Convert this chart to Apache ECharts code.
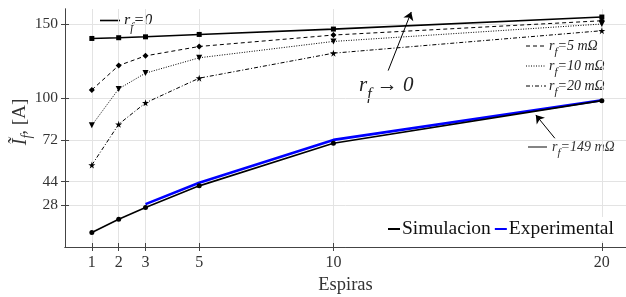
<!DOCTYPE html>
<html>
<head>
<meta charset="utf-8">
<script src="https://cdn.jsdelivr.net/npm/echarts@6/dist/echarts.min.js"></script>
<style>
  html, body { margin: 0; padding: 0; background: #fff; }
  #chart { width: 626px; height: 297px; }
</style>
</head>
<body>
<div id="chart"></div>
<script type="text/javascript">
  // espiras (eje x)
  var espiras = [1, 2, 3, 5, 10, 20];
  var xTicks = [1, 2, 3, 5, 10, 20];
  var yTicks = [28, 44, 72, 100, 150];

  // corriente de falla simulada, por resistencia de falla
  var rf0 = [140.2, 140.7, 141.3, 142.9, 146.5, 154.6];
  var rf5 = [105.6, 122.0, 128.5, 134.8, 142.5, 152.1];
  var rf10 = [81.8, 106.3, 116.9, 127.2, 138.2, 149.9];
  var rf20 = [55.1, 82.5, 96.9, 113.5, 130.3, 145.4];
  var rf149 = [9.7, 18.7, 26.6, 41.1, 69.7, 98.4];

  // experimental (rf = 149 mOhm)
  var expX = [3, 5, 10, 20];
  var expY = [28.8, 43.2, 72.0, 98.6];

  var serif = 'Liberation Serif';
  var star = 'path://M50,0 L61,35 L98,35 L68,57 L79,91 L50,70 L21,91 L32,57 L2,35 L39,35 Z';

  function pares(xs, ys) {
    var out = [];
    for (var i = 0; i < xs.length; i++) out.push([xs[i], ys[i]]);
    return out;
  }

  function rfLabel(val) {
    return '{r|r}{s|f}{e|=' + val + '}';
  }
  // subindice: el token "s" se baja con padding superior
  function rfRich(size, col) {
    var sub = Math.round(size * 0.75);
    col = col || '#222';
    return {
      r: { fontFamily: serif, fontStyle: 'italic', fontSize: size, lineHeight: size, verticalAlign: 'top', fill: col },
      s: { fontFamily: serif, fontStyle: 'italic', fontSize: sub, lineHeight: sub, verticalAlign: 'top', padding: [Math.round(size * 0.55), 0, 0, 0], fill: col },
      e: { fontFamily: serif, fontStyle: 'italic', fontSize: size, lineHeight: size, verticalAlign: 'top', fill: col }
    };
  }

  var myChart = echarts.init(document.getElementById('chart'));

  var gridGray = '#e3e3e3';
  var axisGray = '#444';

  var option = {
    backgroundColor: '#fff',
    animation: false,
    grid: { left: 65, right: 0, top: 9, bottom: 50, outerBoundsMode: 'none' },
    legend: {
      data: ['Simulacion', 'Experimental'],
      left: 385, top: 217,
      itemWidth: 12, itemHeight: 2, itemGap: 4,
      icon: 'rect',
      backgroundColor: '#fff',
      padding: [2, 3, 2, 3],
      textStyle: { fontFamily: serif, fontSize: 19.5, color: '#111', padding: [0, 0, 0, -3] }
    },
    xAxis: [{
      type: 'value', min: 0, max: 20.9,
      name: 'Espiras', nameLocation: 'middle', nameGap: 24,
      nameTextStyle: { fontFamily: serif, fontSize: 18.5, color: '#333' },
      axisLine: { show: true, lineStyle: { color: axisGray } },
      axisTick: { inside: true, length: 4, customValues: xTicks, lineStyle: { color: axisGray } },
      axisLabel: { customValues: xTicks, fontFamily: serif, fontSize: 16, color: '#333', margin: 8 },
      splitLine: { show: true, lineStyle: { color: gridGray } }
    }, {
      type: 'value', min: 0, max: 20.9, position: 'top',
      axisLine: { show: true, lineStyle: { color: axisGray } },
      axisTick: { inside: true, length: 4, customValues: xTicks, lineStyle: { color: axisGray } },
      axisLabel: { show: false },
      splitLine: { show: false }
    }],
    yAxis: [{
      type: 'value', min: 0, max: 160,
      axisLine: { show: true, lineStyle: { color: axisGray } },
      axisTick: { inside: true, length: 4, customValues: yTicks, lineStyle: { color: axisGray } },
      axisLabel: { customValues: yTicks, fontFamily: serif, fontSize: 15.5, color: '#333', margin: 7 },
      splitLine: { show: true, lineStyle: { color: gridGray } }
    }, {
      type: 'value', min: 0, max: 160, position: 'right',
      axisLine: { show: true, lineStyle: { color: axisGray } },
      axisTick: { inside: true, length: 4, customValues: yTicks, lineStyle: { color: axisGray } },
      axisLabel: { show: false },
      splitLine: { show: false }
    }],
    series: [{
      name: 'rf0', type: 'line', data: pares(espiras, rf0),
      symbol: 'rect', symbolSize: 5,
      itemStyle: { color: '#000' }, lineStyle: { color: '#000', width: 1.6 }
    }, {
      name: 'rf5', type: 'line', data: pares(espiras, rf5),
      symbol: 'diamond', symbolSize: 6,
      itemStyle: { color: '#000' }, lineStyle: { color: '#000', width: 1, type: [4, 3] }
    }, {
      name: 'rf10', type: 'line', data: pares(espiras, rf10),
      symbol: 'triangle', symbolRotate: 180, symbolSize: 6,
      itemStyle: { color: '#000' }, lineStyle: { color: '#000', width: 1, type: [1, 1.5] }
    }, {
      name: 'rf20', type: 'line', data: pares(espiras, rf20),
      symbol: star, symbolSize: 7,
      itemStyle: { color: '#000' }, lineStyle: { color: '#000', width: 1, type: [4, 2, 1, 2] },
      markLine: {
        silent: true, symbol: ['none', 'arrow'], symbolSize: 8,
        label: { show: false },
        lineStyle: { color: '#000', width: 1, type: 'solid' },
        data: [
          [{ coord: [12.04, 118.6] }, { coord: [12.9, 158.0] }],
          [{ coord: [18.25, 73.1] }, { coord: [17.54, 88.8] }]
        ]
      }
    }, {
      name: 'Experimental', type: 'line', data: pares(expX, expY),
      symbol: 'none',
      itemStyle: { color: '#0000ff' }, lineStyle: { color: '#0000ff', width: 2.6 }
    }, {
      name: 'Simulacion', type: 'line', data: pares(espiras, rf149),
      symbol: 'circle', symbolSize: 5,
      itemStyle: { color: '#000' }, lineStyle: { color: '#000', width: 1.6 }
    }],
    graphic: [
      // leyendas de las curvas
      { type: 'line', shape: { x1: 100, y1: 20.5, x2: 120, y2: 20.5 }, style: { stroke: '#000', lineWidth: 1.6 } },
      { type: 'text', x: 124, y: 13, style: { text: rfLabel('0'), rich: rfRich(16) } },
      { type: 'line', shape: { x1: 526, y1: 46, x2: 546, y2: 46 }, style: { stroke: '#000', lineWidth: 1, lineDash: [4, 3] } },
      { type: 'text', x: 549, y: 39, style: { text: rfLabel('5 mΩ'), rich: rfRich(14) } },
      { type: 'line', shape: { x1: 526, y1: 66, x2: 546, y2: 66 }, style: { stroke: '#000', lineWidth: 1, lineDash: [1, 1.5] } },
      { type: 'text', x: 549, y: 59, style: { text: rfLabel('10 mΩ'), rich: rfRich(14) } },
      { type: 'line', shape: { x1: 526, y1: 86, x2: 546, y2: 86 }, style: { stroke: '#000', lineWidth: 1, lineDash: [4, 2, 1, 2] } },
      { type: 'text', x: 549, y: 79, style: { text: rfLabel('20 mΩ'), rich: rfRich(14) } },
      { type: 'line', shape: { x1: 528, y1: 147, x2: 547, y2: 147 }, style: { stroke: '#333', lineWidth: 1.2 } },
      { type: 'text', x: 552, y: 140, style: { text: rfLabel('149 mΩ'), rich: rfRich(14, '#333') } },
      { type: 'text', x: 359, y: 75, style: { text: '{r|r}{s|f}{e| → 0}', rich: rfRich(21) } },
      // etiqueta eje y
      { type: 'text', x: 21, y: 122, rotation: Math.PI / 2,
        style: {
          text: '{i|Ĩ}{s|f}{n|, [A]}', align: 'center', verticalAlign: 'middle',
          rich: {
            i: { fontFamily: serif, fontStyle: 'italic', fontSize: 20, lineHeight: 20, verticalAlign: 'top', fill: '#333' },
            s: { fontFamily: serif, fontStyle: 'italic', fontSize: 14, lineHeight: 14, verticalAlign: 'top', padding: [9, 0, 0, 0], fill: '#333' },
            n: { fontFamily: serif, fontSize: 19, lineHeight: 20, verticalAlign: 'top', fill: '#333' }
          }
        }
      }
    ]
  };
  myChart.setOption(option);
</script>
</body>
</html>
